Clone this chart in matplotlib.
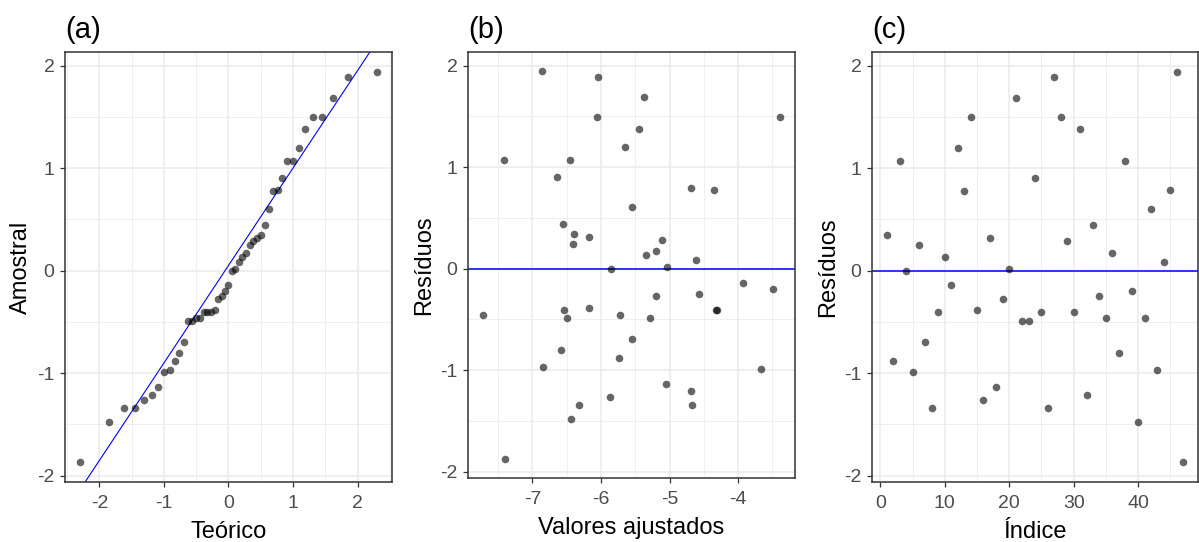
import numpy as np
import matplotlib
matplotlib.use("Agg")
import matplotlib.pyplot as plt
from matplotlib.ticker import MultipleLocator
from statistics import NormalDist

residuos = [
    0.343, -0.880, 1.067, 0.000, -0.993, 0.246, -0.694, -1.340, -0.404, 0.131,
    -0.145, 1.195, 0.778, 1.498, -0.387, -1.266, 0.316, -1.138, -0.273, 0.017,
    1.687, -0.488, -0.488, 0.906, -0.404, -1.340, 1.889, 1.498, 0.286, -0.404,
    1.380, -1.209, 0.444, -0.246, -0.461, 0.172, -0.805, 1.067, -0.199, -1.481,
    -0.461, 0.606, -0.966, 0.088, 0.791, 1.943, -1.872,
]

ajustados = [
    -6.393, -5.733, -7.417, -5.850, -3.670, -6.408, -5.549, -6.316, -6.539, -5.340,
    -3.932, -5.646, -4.354, -6.063, -6.170, -5.869, -6.170, -5.058, -5.199, -5.039,
    -5.379, -6.495, -5.286, -6.636, -4.330, -4.675, -6.049, -3.388, -5.117, -4.311,
    -5.447, -4.694, -6.553, -4.573, -7.723, -5.199, -6.578, -6.451, -3.485, -6.432,
    -5.728, -5.544, -6.840, -4.617, -4.694, -6.854, -7.403,
]

residuos = np.array(residuos)
ajustados = np.array(ajustados)
indice = np.arange(1, len(residuos) + 1)

# quantis teóricos como no stat_qq do ggplot (ppoints)
n = len(residuos)
amostral = np.sort(residuos)
teorico = np.array([NormalDist().inv_cdf((i - 0.5) / n) for i in range(1, n + 1)])

# reta do qq-line pelos quartis
q_amostra = np.quantile(residuos, [0.25, 0.75])
q_teorico = np.array([NormalDist().inv_cdf(p) for p in (0.25, 0.75)])
inclinacao = (q_amostra[1] - q_amostra[0]) / (q_teorico[1] - q_teorico[0])
intercepto = q_amostra[0] - inclinacao * q_teorico[0]

plt.rcParams["font.family"] = ["Liberation Sans", "DejaVu Sans"]

fig = plt.figure(figsize=(11.99, 5.42), dpi=100)
W, H = 1199, 542


def eixo(esq, dir, topo, base):
    return fig.add_axes([esq / W, 1 - base / H, (dir - esq) / W, (base - topo) / H])


ax_a = eixo(65, 392, 52, 482)
ax_b = eixo(468, 795, 52, 478)
ax_c = eixo(872, 1198, 52, 482)


def estilo(ax, titulo, xlabel, ylabel, passo_x, passo_menor_x):
    ax.set_facecolor("white")
    ax.xaxis.set_major_locator(MultipleLocator(passo_x))
    ax.xaxis.set_minor_locator(MultipleLocator(passo_menor_x))
    ax.yaxis.set_major_locator(MultipleLocator(1))
    ax.yaxis.set_minor_locator(MultipleLocator(0.5))
    ax.grid(which="major", color="#EBEBEB", linewidth=1.1)
    ax.grid(which="minor", color="#EBEBEB", linewidth=0.55)
    ax.set_axisbelow(True)
    for lado in ax.spines.values():
        lado.set_color("#333333")
        lado.set_linewidth(1.1)
    ax.tick_params(which="major", direction="out", length=3.5, width=0.9,
                   color="#333333", labelcolor="#4D4D4D", labelsize=14, pad=4)
    ax.tick_params(axis="x", which="major", pad=6)
    ax.tick_params(which="minor", length=0)
    ax.set_title(titulo, loc="left", fontsize=21, pad=10, x=0.0)
    ax.set_xlabel(xlabel, fontsize=17, labelpad=6)
    ax.set_ylabel(ylabel, fontsize=17, labelpad=4)
    ax.margins(x=0.05, y=0.05)


pontos = dict(s=30, color="black", alpha=0.6, linewidths=0, zorder=3)

# (a) qq-plot
ax_a.scatter(teorico, amostral, **pontos)
ax_a.axline((0, intercepto), slope=inclinacao, color="blue", linewidth=0.8, zorder=2)
estilo(ax_a, "(a)", "Teórico", "Amostral", 1, 0.5)
ax_a.set_xticks([-2, -1, 0, 1, 2])

# (b) resíduos vs ajustados
ax_b.scatter(ajustados, residuos, **pontos)
ax_b.axhline(0, color="blue", linewidth=1.1, zorder=2)
estilo(ax_b, "(b)", "Valores ajustados", "Resíduos", 1, 0.5)

# (c) resíduos vs índice
ax_c.scatter(indice, residuos, **pontos)
ax_c.axhline(0, color="blue", linewidth=1.1, zorder=2)
estilo(ax_c, "(c)", "Índice", "Resíduos", 10, 5)

for ax in (ax_a, ax_b, ax_c):
    ax.set_yticks([-2, -1, 0, 1, 2])
    ax.set_yticklabels(["-2", "-1", "0", "1", "2"])
ax_a.set_xticklabels(["-2", "-1", "0", "1", "2"])
ax_b.set_xticks([-7, -6, -5, -4])
ax_b.set_xticklabels(["-7", "-6", "-5", "-4"])

fig.savefig("out.png", dpi=100)
